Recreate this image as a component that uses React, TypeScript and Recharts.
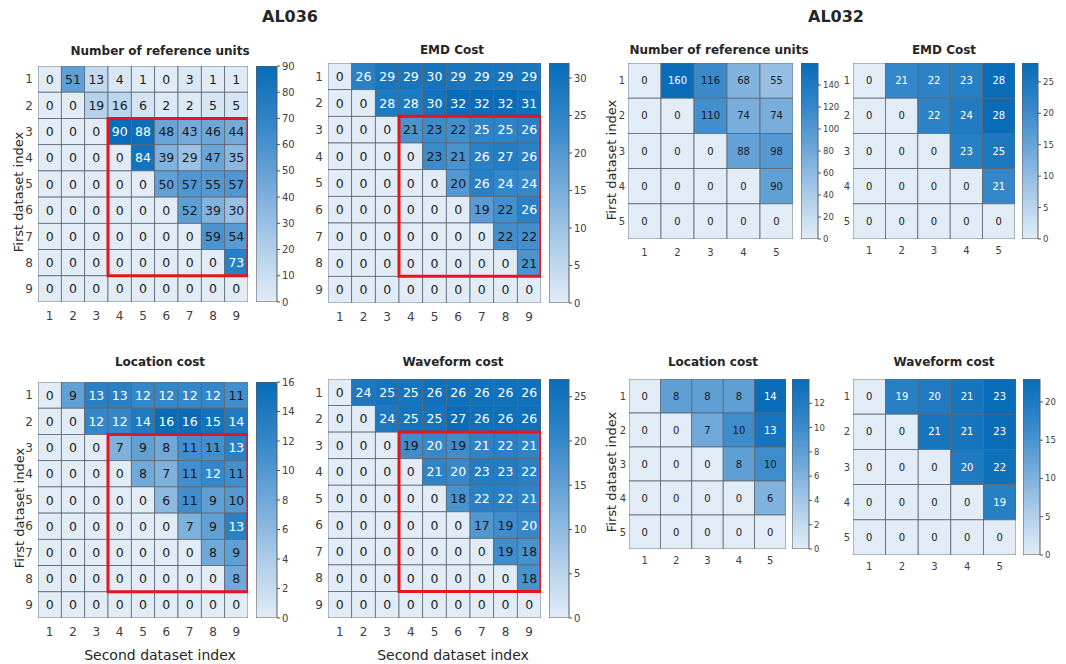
import React from 'react'
import {
	ScatterChart,
	Scatter,
	XAxis,
	YAxis,
	ReferenceArea,
	BarChart,
	Bar,
} from 'recharts'

// dataset indices
const al036Index = [1, 2, 3, 4, 5, 6, 7, 8, 9]
const al032Index = [1, 2, 3, 4, 5]

// AL036 matrices (rows = first dataset index, cols = second dataset index)
const al036Units = [
	[0, 51, 13, 4, 1, 0, 3, 1, 1],
	[0, 0, 19, 16, 6, 2, 2, 5, 5],
	[0, 0, 0, 90, 88, 48, 43, 46, 44],
	[0, 0, 0, 0, 84, 39, 29, 47, 35],
	[0, 0, 0, 0, 0, 50, 57, 55, 57],
	[0, 0, 0, 0, 0, 0, 52, 39, 30],
	[0, 0, 0, 0, 0, 0, 0, 59, 54],
	[0, 0, 0, 0, 0, 0, 0, 0, 73],
	[0, 0, 0, 0, 0, 0, 0, 0, 0],
]
const al036Emd = [
	[0, 26, 29, 29, 30, 29, 29, 29, 29],
	[0, 0, 28, 28, 30, 32, 32, 32, 31],
	[0, 0, 0, 21, 23, 22, 25, 25, 26],
	[0, 0, 0, 0, 23, 21, 26, 27, 26],
	[0, 0, 0, 0, 0, 20, 26, 24, 24],
	[0, 0, 0, 0, 0, 0, 19, 22, 26],
	[0, 0, 0, 0, 0, 0, 0, 22, 22],
	[0, 0, 0, 0, 0, 0, 0, 0, 21],
	[0, 0, 0, 0, 0, 0, 0, 0, 0],
]
const al036Location = [
	[0, 9, 13, 13, 12, 12, 12, 12, 11],
	[0, 0, 12, 12, 14, 16, 16, 15, 14],
	[0, 0, 0, 7, 9, 8, 11, 11, 13],
	[0, 0, 0, 0, 8, 7, 11, 12, 11],
	[0, 0, 0, 0, 0, 6, 11, 9, 10],
	[0, 0, 0, 0, 0, 0, 7, 9, 13],
	[0, 0, 0, 0, 0, 0, 0, 8, 9],
	[0, 0, 0, 0, 0, 0, 0, 0, 8],
	[0, 0, 0, 0, 0, 0, 0, 0, 0],
]
const al036Waveform = [
	[0, 24, 25, 25, 26, 26, 26, 26, 26],
	[0, 0, 24, 25, 25, 27, 26, 26, 26],
	[0, 0, 0, 19, 20, 19, 21, 22, 21],
	[0, 0, 0, 0, 21, 20, 23, 23, 22],
	[0, 0, 0, 0, 0, 18, 22, 22, 21],
	[0, 0, 0, 0, 0, 0, 17, 19, 20],
	[0, 0, 0, 0, 0, 0, 0, 19, 18],
	[0, 0, 0, 0, 0, 0, 0, 0, 18],
	[0, 0, 0, 0, 0, 0, 0, 0, 0],
]

// AL032 matrices
const al032Units = [
	[0, 160, 116, 68, 55],
	[0, 0, 110, 74, 74],
	[0, 0, 0, 88, 98],
	[0, 0, 0, 0, 90],
	[0, 0, 0, 0, 0],
]
const al032Emd = [
	[0, 21, 22, 23, 28],
	[0, 0, 22, 24, 28],
	[0, 0, 0, 23, 25],
	[0, 0, 0, 0, 21],
	[0, 0, 0, 0, 0],
]
const al032Location = [
	[0, 8, 8, 8, 14],
	[0, 0, 7, 10, 13],
	[0, 0, 0, 8, 10],
	[0, 0, 0, 0, 6],
	[0, 0, 0, 0, 0],
]
const al032Waveform = [
	[0, 19, 20, 21, 23],
	[0, 0, 21, 21, 23],
	[0, 0, 0, 20, 22],
	[0, 0, 0, 0, 19],
	[0, 0, 0, 0, 0],
]

// highlighted block in the AL036 panels (second index 4-9, first index 3-8)
const highlightCols = [4, 9]
const highlightRows = [3, 8]

// colorbar ticks
const unitsTicks036 = [0, 10, 20, 30, 40, 50, 60, 70, 80, 90]
const emdTicks036 = [0, 5, 10, 15, 20, 25, 30]
const locationTicks036 = [0, 2, 4, 6, 8, 10, 12, 14, 16]
const waveformTicks036 = [0, 5, 10, 15, 20, 25]
const unitsTicks032 = [0, 20, 40, 60, 80, 100, 120, 140]
const emdTicks032 = [0, 5, 10, 15, 20, 25]
const locationTicks032 = [0, 2, 4, 6, 8, 10, 12]
const waveformTicks032 = [0, 5, 10, 15, 20]

const FONT = "'DejaVu Sans', Verdana, sans-serif"

const STOPS: [number, number[]][] = [
	[0, [225, 236, 247]],
	[0.25, [172, 204, 233]],
	[0.5, [112, 168, 217]],
	[0.75, [52, 135, 201]],
	[1, [8, 108, 184]],
]

function colorAt(t: number) {
	const c = Math.max(0, Math.min(1, t))
	for (let i = 1; i < STOPS.length; i++) {
		if (c <= STOPS[i][0]) {
			const [t0, a] = STOPS[i - 1]
			const [t1, b] = STOPS[i]
			const k = (c - t0) / (t1 - t0)
			const m = a.map((v, j) => Math.round(v + (b[j] - v) * k))
			return `rgb(${m[0]},${m[1]},${m[2]})`
		}
	}
	return 'rgb(8,108,184)'
}

type Panel = {
	id: string
	title: string
	titleX: number
	titleY: number
	matrix: number[][]
	index: number[]
	grid: number[]
	bar: number[]
	barTicks: number[]
	highlight?: boolean
	cellFont: number
	tickFont: number
	barFont: number
	yGap: number
	xGap: number
}

function Text({ x, y, size, bold, rotate, children }: any) {
	return (
		<div
			style={{
				position: 'absolute',
				left: x,
				top: y,
				transform: `translate(-50%, -50%)${rotate ? ' rotate(-90deg)' : ''}`,
				fontSize: size,
				fontWeight: bold ? 'bold' : 'normal',
				color: '#262626',
				whiteSpace: 'nowrap',
				lineHeight: 1,
			}}
		>
			{children}
		</div>
	)
}

function Heatmap({ p }: { p: Panel }) {
	const n = p.index.length
	const gw = p.grid[2] - p.grid[0]
	const gh = p.grid[3] - p.grid[1]
	const cw = gw / n
	const ch = gh / n
	const cmax = Math.max(...p.matrix.flat())
	const yw = 30
	const xh = 26
	const points = p.matrix.flatMap((row, r) =>
		row.map((v, c) => ({ x: p.index[c], y: p.index[r], v }))
	)
	const bw = p.bar[2] - p.bar[0]
	const bh = p.bar[3] - p.bar[1]
	const pad = 8
	const gid = `grad-${p.id}`

	const cell = (s: any) => {
		const v = s.payload.v
		const light = v / cmax > 0.73
		return (
			<g>
				<rect
					x={s.cx - cw / 2}
					y={s.cy - ch / 2}
					width={cw}
					height={ch}
					fill={colorAt(v / cmax)}
					stroke='#5d6772'
					strokeWidth={0.8}
				/>
				<text
					x={s.cx}
					y={s.cy}
					textAnchor='middle'
					dominantBaseline='central'
					fontSize={p.cellFont}
					fontFamily={FONT}
					fill={light ? '#ffffff' : '#1a1a1a'}
				>
					{v}
				</text>
			</g>
		)
	}

	const axes = (showTicks: boolean) => [
		<XAxis
			key='x'
			type='number'
			dataKey='x'
			domain={[0.5, n + 0.5]}
			ticks={p.index}
			interval={0}
			allowDataOverflow
			axisLine={false}
			tickLine={false}
			tickSize={p.xGap - 2}
			tickMargin={2}
			height={xh}
			tick={showTicks ? { fontSize: p.tickFont, fill: '#404040', fontFamily: FONT } : false}
		/>,
		<YAxis
			key='y'
			type='number'
			dataKey='y'
			reversed
			domain={[0.5, n + 0.5]}
			ticks={p.index}
			interval={0}
			allowDataOverflow
			axisLine={false}
			tickLine={false}
			tickSize={p.yGap - 2}
			tickMargin={2}
			width={yw}
			tick={showTicks ? { fontSize: p.tickFont, fill: '#404040', fontFamily: FONT } : false}
		/>,
	]

	const box = { position: 'absolute' as const, left: p.grid[0] - yw, top: p.grid[1] }
	const margin = { top: 0, right: 0, bottom: 0, left: 0 }

	return (
		<>
			<Text x={p.titleX} y={p.titleY} size={12} bold>
				{p.title}
			</Text>
			<div style={box}>
				<ScatterChart width={gw + yw} height={gh + xh} margin={margin}>
					{axes(true)}
					<Scatter data={points} shape={cell} isAnimationActive={false} />
				</ScatterChart>
			</div>
			{p.highlight && (
				<div style={{ ...box, pointerEvents: 'none' }}>
					<ScatterChart width={gw + yw} height={gh + xh} margin={margin}>
						{axes(false)}
						<ReferenceArea
							x1={highlightCols[0] - 0.5}
							x2={highlightCols[1] + 0.5}
							y1={highlightRows[0] - 0.5}
							y2={highlightRows[1] + 0.5}
							fill='none'
							stroke='#e8131b'
							strokeWidth={3}
							ifOverflow='visible'
						/>
					</ScatterChart>
				</div>
			)}
			<div style={{ position: 'absolute', left: p.bar[0], top: p.bar[1] - pad }}>
				<BarChart
					width={bw + 32}
					height={bh + pad * 2}
					data={[{ name: 'c', v: cmax }]}
					margin={{ top: pad, right: 0, bottom: pad, left: 0 }}
					barCategoryGap={0}
				>
					<defs>
						<linearGradient id={gid} x1='0' y1='0' x2='0' y2='1'>
							{STOPS.map(([t]) => (
								<stop key={t} offset={1 - t} stopColor={colorAt(t)} />
							)).reverse()}
						</linearGradient>
					</defs>
					<XAxis dataKey='name' hide />
					<YAxis
						orientation='right'
						type='number'
						domain={[0, cmax]}
						ticks={p.barTicks}
						interval={0}
						allowDataOverflow
						axisLine={false}
						tickLine={{ stroke: '#555' }}
						tickSize={3}
						tickMargin={2}
						width={32}
						tick={{ fontSize: p.barFont, fill: '#404040', fontFamily: FONT }}
					/>
					<Bar
						dataKey='v'
						fill={`url(#${gid})`}
						stroke='#5a5a5a'
						strokeWidth={1}
						isAnimationActive={false}
					/>
				</BarChart>
			</div>
		</>
	)
}

const big = { cellFont: 12.5, tickFont: 12, barFont: 10, yGap: 5, xGap: 9, highlight: true, index: al036Index }
const small = { cellFont: 10, tickFont: 10, barFont: 8.5, yGap: 3, xGap: 8, index: al032Index }

const panels: Panel[] = [
	{ ...big, id: 'a1', title: 'Number of reference units', titleX: 160, titleY: 51, matrix: al036Units, grid: [38, 66, 248, 302], bar: [256, 66, 277, 302], barTicks: unitsTicks036 },
	{ ...big, id: 'a2', title: 'EMD Cost', titleX: 452, titleY: 50, matrix: al036Emd, grid: [328, 63, 541, 303], bar: [549, 63, 569, 303], barTicks: emdTicks036 },
	{ ...big, id: 'a3', title: 'Location cost', titleX: 160, titleY: 362, matrix: al036Location, grid: [38, 382, 248, 618], bar: [256, 382, 277, 618], barTicks: locationTicks036 },
	{ ...big, id: 'a4', title: 'Waveform cost', titleX: 453, titleY: 362, matrix: al036Waveform, grid: [328, 379, 541, 618], bar: [549, 379, 569, 618], barTicks: waveformTicks036 },
	{ ...small, id: 'b1', title: 'Number of reference units', titleX: 719, titleY: 50, matrix: al032Units, grid: [628, 63, 793, 239], bar: [801, 63, 818, 239], barTicks: unitsTicks032, xGap: 10 },
	{ ...small, id: 'b2', title: 'EMD Cost', titleX: 944, titleY: 50, matrix: al032Emd, grid: [853, 63, 1015, 239], bar: [1022, 63, 1038, 239], barTicks: emdTicks032 },
	{ ...small, id: 'b3', title: 'Location cost', titleX: 713, titleY: 362, matrix: al032Location, grid: [629, 379, 786, 549], bar: [792, 379, 809, 549], barTicks: locationTicks032 },
	{ ...small, id: 'b4', title: 'Waveform cost', titleX: 944, titleY: 362, matrix: al032Waveform, grid: [853, 379, 1016, 555], bar: [1023, 379, 1040, 555], barTicks: waveformTicks032 },
]

export default function App() {
	return (
		<div
			style={{
				position: 'absolute',
				left: 0,
				top: 0,
				width: 1066,
				height: 664,
				background: '#fff',
				fontFamily: FONT,
				overflow: 'hidden',
			}}
		>
			<Text x={290} y={17} size={16} bold>AL036</Text>
			<Text x={836} y={17} size={16} bold>AL032</Text>
			{panels.map((p) => (
				<Heatmap key={p.id} p={p} />
			))}
			<Text x={18} y={192} size={13} rotate>First dataset index</Text>
			<Text x={19} y={508} size={13} rotate>First dataset index</Text>
			<Text x={611} y={160} size={13} rotate>First dataset index</Text>
			<Text x={611} y={472} size={13} rotate>First dataset index</Text>
			<Text x={160} y={655} size={14}>Second dataset index</Text>
			<Text x={453} y={655} size={14}>Second dataset index</Text>
		</div>
	)
}
